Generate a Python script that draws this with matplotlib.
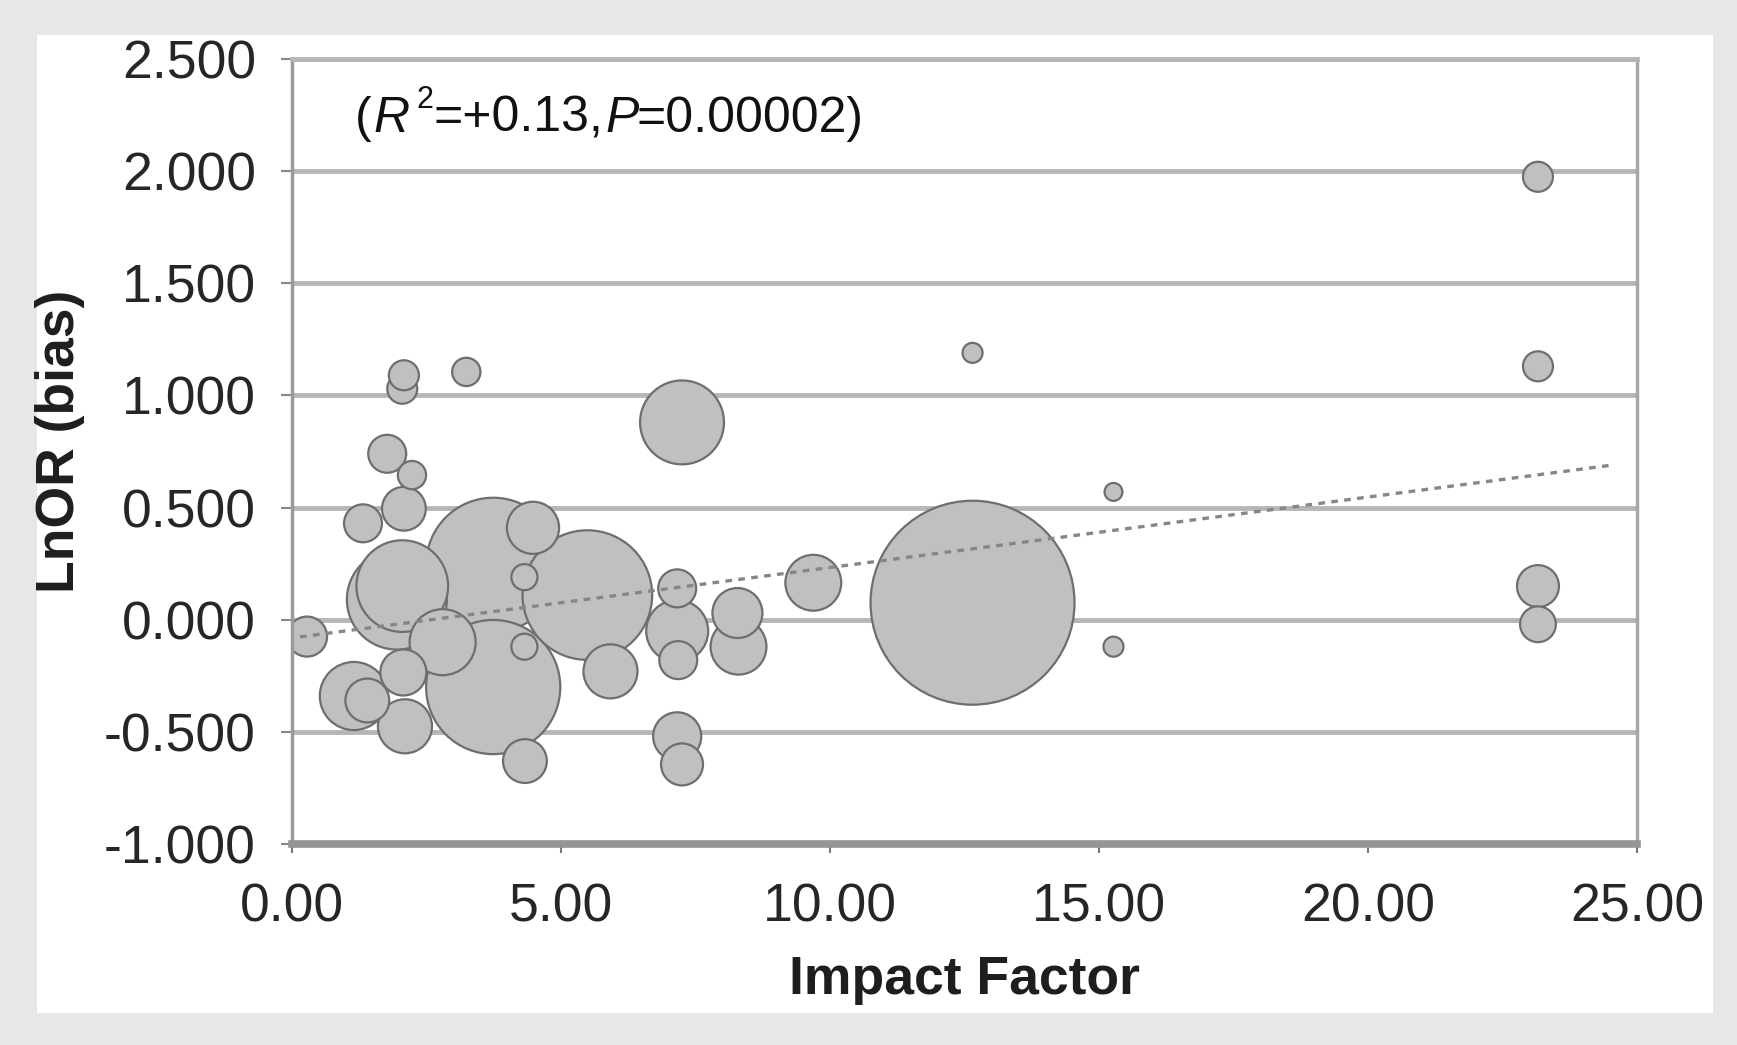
import numpy as np
import matplotlib
matplotlib.use("Agg")
import matplotlib.pyplot as plt
from matplotlib.patches import Rectangle
from matplotlib.ticker import FormatStrFormatter

# Journal impact factor of each study, its log odds ratio, and bubble size (study weight)
impact_factor = [0.28, 1.15, 1.40, 1.32, 1.77, 2.05, 2.08, 3.24, 2.23, 2.08,
                 1.95, 2.05, 2.07, 2.10, 2.80, 3.74, 3.74, 4.48, 4.32, 4.32,
                 4.33, 5.49, 5.92, 7.25, 7.16, 7.16, 7.18, 7.16, 7.25, 8.28,
                 8.30, 9.69, 12.65, 12.65, 15.27, 15.27, 23.16, 23.16, 23.16, 23.16]
ln_or = [-0.075, -0.34, -0.36, 0.43, 0.74, 1.03, 1.09, 1.105, 0.645, 0.495,
         0.09, 0.15, -0.235, -0.475, -0.10, 0.245, -0.30, 0.41, 0.19, -0.12,
         -0.63, 0.11, -0.23, 0.88, 0.14, -0.05, -0.18, -0.52, -0.645, 0.03,
         -0.12, 0.165, 0.076, 1.19, 0.57, -0.12, 1.975, 1.13, 0.15, -0.02]
bubble_size = [4.0, 11.6, 4.8, 3.6, 3.6, 2.25, 2.25, 2.0, 2.0, 4.8,
               25.0, 21.0, 5.3, 7.3, 10.9, 45.0, 45.0, 6.8, 1.7, 1.7,
               4.8, 42.0, 7.3, 17.6, 3.6, 9.6, 3.6, 5.8, 4.4, 6.25,
               7.8, 7.8, 104.0, 1.0, 0.8, 1.0, 2.25, 2.25, 4.4, 3.2]

# Linear trend of LnOR on impact factor
trend_intercept = -0.081
trend_slope = 0.0314
trend_x = [0.15, 24.5]

x_ticks = [0, 5, 10, 15, 20, 25]
y_ticks = [-1.0, -0.5, 0.0, 0.5, 1.0, 1.5, 2.0, 2.5]

plt.rcParams['font.family'] = ['Liberation Sans', 'DejaVu Sans']
plt.rcParams['axes.unicode_minus'] = False

fig = plt.figure(figsize=(17.37, 10.45), dpi=100)
fig.patch.set_facecolor('#e7e7e7')
fig.add_artist(Rectangle((0.0213, 0.0306), 0.9649, 0.9359, transform=fig.transFigure,
                         facecolor='white', edgecolor='none', zorder=-5))

ax = fig.add_axes([0.1681, 0.1923, 0.7743, 0.7512])
ax.set_facecolor('white')
ax.set_xlim(0, 25)
ax.set_ylim(-1.0, 2.5)
ax.set_xticks(x_ticks)
ax.set_yticks(y_ticks)
ax.xaxis.set_major_formatter(FormatStrFormatter('%.2f'))
ax.yaxis.set_major_formatter(FormatStrFormatter('%.3f'))

ax.set_axisbelow(True)
ax.yaxis.grid(True, color='#b6b6b6', linewidth=3.5)
ax.xaxis.grid(False)

ax.spines['top'].set_color('#b6b6b6')
ax.spines['top'].set_linewidth(3.5)
ax.spines['bottom'].set_color('#959595')
ax.spines['bottom'].set_linewidth(5.5)
ax.spines['left'].set_color('#9a9a9a')
ax.spines['left'].set_linewidth(2.5)
ax.spines['right'].set_color('#a8a8a8')
ax.spines['right'].set_linewidth(2.5)

ax.tick_params(axis='y', direction='out', length=8, width=1.5, color='#888888',
               pad=18, labelsize=38.5, labelcolor='#262626')
ax.tick_params(axis='x', direction='out', length=6.5, width=1.5, color='#777777',
               pad=21, labelsize=38.5, labelcolor='#262626')

# Bubbles, largest drawn first so smaller ones stay visible
xs = np.array(impact_factor)
ys = np.array(ln_or)
ws = np.array(bubble_size)
order = np.argsort(-ws, kind='stable')
ax.scatter(xs[order], ys[order], s=ws[order] * 207.4, c='#c0c0c0',
           edgecolors='#6e6e6e', linewidths=1.6, zorder=2)

# Trend line
tx = np.array(trend_x)
ax.plot(tx, trend_intercept + trend_slope * tx, color='#868686', linewidth=2.4,
        linestyle=(0, (2.0, 1.9)), zorder=3)

ax.set_xlabel('Impact Factor', fontsize=38.5, fontweight='bold', color='#1e1e1e')
ax.xaxis.set_label_coords(0.5, -0.141)
ax.set_ylabel('LnOR (bias)', fontsize=38.5, fontweight='bold', color='#1e1e1e')
ax.yaxis.set_label_coords(-0.154, 0.513)

# Regression statistics, assembled piece by piece on a common baseline
base_y = 0.8737
fs = 36
t = fig.text(0.2044, base_y, '(', fontsize=fs, va='baseline', ha='left', color='#111111')
t_r = ax.annotate('R', xy=(1, base_y), xycoords=(t, 'figure fraction'),
                  xytext=(1, 0), textcoords='offset points',
                  fontsize=fs, style='italic', va='baseline', ha='left', color='#111111')
t_sup = ax.annotate('2', xy=(1, base_y), xycoords=(t_r, 'figure fraction'),
                    xytext=(5, 17), textcoords='offset points',
                    fontsize=22, va='baseline', ha='left', color='#111111')
t_eq = ax.annotate('=+0.13,', xy=(1, base_y), xycoords=(t_sup, 'figure fraction'),
                   xytext=(0.5, 0), textcoords='offset points',
                   fontsize=fs, va='baseline', ha='left', color='#111111')
t_p = ax.annotate('P', xy=(1, base_y), xycoords=(t_eq, 'figure fraction'),
                  xytext=(1, 0), textcoords='offset points',
                  fontsize=fs, style='italic', va='baseline', ha='left', color='#111111')
ax.annotate('=0.00002)', xy=(1, base_y), xycoords=(t_p, 'figure fraction'),
            xytext=(-1, 0), textcoords='offset points',
            fontsize=fs, va='baseline', ha='left', color='#111111')

fig.savefig('out.png', dpi=100, facecolor=fig.get_facecolor())
